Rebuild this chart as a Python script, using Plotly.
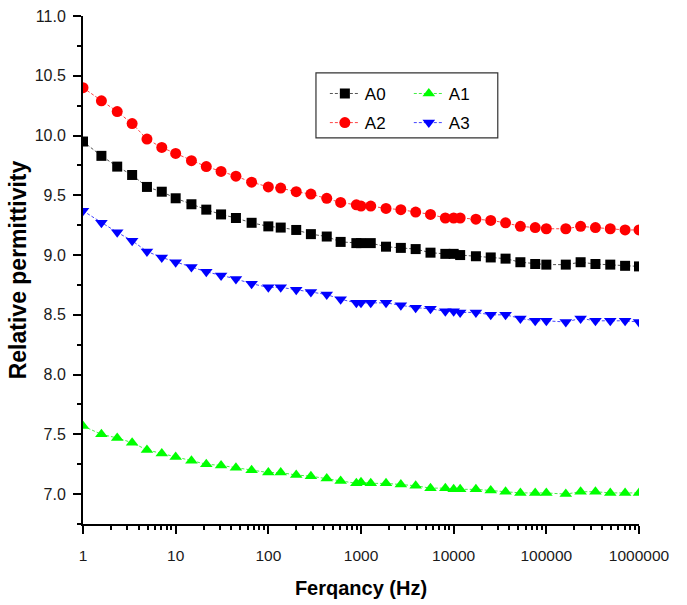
import plotly.graph_objects as go

# Measurement frequencies (Hz) and relative permittivity of each sample
freq_hz = [1, 1.58, 2.34, 3.39, 4.9, 7.08, 10, 14.8, 21.4, 30.9, 44.7, 66, 100,
           136, 200, 288, 427, 603, 891, 1000, 1274, 1862, 2692, 3890, 5623,
           8128, 10000, 11750, 17380, 25120, 36310, 52480, 75860, 100000,
           162200, 234400, 338800, 489800, 707900, 1000000]

a0 = [9.95, 9.83, 9.74, 9.67, 9.57, 9.53, 9.475, 9.425, 9.38, 9.34,
      9.31, 9.27, 9.24, 9.23, 9.21, 9.175, 9.155, 9.11, 9.10, 9.10,
      9.10, 9.07, 9.06, 9.05, 9.02, 9.01, 9.01, 9.00, 8.99, 8.98,
      8.97, 8.94, 8.925, 8.92, 8.92, 8.94, 8.925, 8.92, 8.91, 8.905]

a1 = [7.57, 7.50, 7.47, 7.43, 7.37, 7.34, 7.31, 7.28, 7.25, 7.24,
      7.22, 7.20, 7.18, 7.18, 7.16, 7.15, 7.13, 7.11, 7.09, 7.10,
      7.09, 7.09, 7.08, 7.07, 7.05, 7.05, 7.04, 7.04, 7.04, 7.03,
      7.02, 7.01, 7.01, 7.01, 7.00, 7.02, 7.02, 7.01, 7.01, 7.01]

a2 = [10.40, 10.29, 10.20, 10.10, 9.97, 9.90, 9.85, 9.79, 9.74, 9.70,
      9.66, 9.61, 9.57, 9.56, 9.53, 9.51, 9.475, 9.44, 9.42, 9.41,
      9.41, 9.39, 9.38, 9.36, 9.34, 9.31, 9.31, 9.31, 9.30, 9.29,
      9.27, 9.24, 9.23, 9.22, 9.22, 9.24, 9.23, 9.22, 9.21, 9.21]

a3 = [9.37, 9.27, 9.19, 9.12, 9.03, 8.98, 8.94, 8.90, 8.86, 8.83,
      8.80, 8.76, 8.73, 8.73, 8.71, 8.69, 8.67, 8.63, 8.60, 8.60,
      8.60, 8.60, 8.58, 8.56, 8.55, 8.53, 8.53, 8.52, 8.52, 8.50,
      8.50, 8.47, 8.45, 8.45, 8.44, 8.47, 8.45, 8.45, 8.45, 8.44]

x_tick_vals = [1, 10, 100, 1000, 10000, 100000, 1000000]
x_tick_text = ["1", "10", "100", "1000", "10000", "100000", "1000000"]

FONT = "Arial, Liberation Sans, Helvetica, sans-serif"

series = [
    # name, values, marker symbol, marker colour, line colour, legend, size
    ("A0", a0, "square", "#000000", "#555555", "legend", 10),
    ("A1", a1, "triangle-up", "#00ff00", "#44ee44", "legend2", 11),
    ("A2", a2, "circle", "#ff0000", "#ff4444", "legend", 11),
    ("A3", a3, "triangle-down", "#0000ff", "#4444ff", "legend2", 11),
]

fig = go.Figure()
for name, vals, sym, mcol, lcol, leg, size in series:
    fig.add_trace(go.Scatter(
        x=freq_hz, y=vals, name=name, mode="lines+markers",
        legend=leg, legendgroup=name,
        line=dict(color=lcol, width=1, dash="3px,2px"),
        marker=dict(symbol=sym, size=size, color=mcol, line=dict(width=0)),
    ))

legend_style = dict(y=0.882, xanchor="left", yanchor="top",
                    bgcolor="rgba(0,0,0,0)", borderwidth=0, tracegroupgap=4,
                    font=dict(size=17, color="#000"), itemclick=False)

fig.update_layout(
    width=687, height=605,
    margin=dict(l=83, r=48, t=16, b=81, autoexpand=False),
    paper_bgcolor="white", plot_bgcolor="white",
    font=dict(family=FONT, color="#1a1a1a"),
    legend=dict(x=0.435, **legend_style),
    legend2=dict(x=0.586, **legend_style),
    shapes=[dict(type="rect", xref="paper", yref="paper",
                 x0=0.419, x1=0.746, y0=0.760, y1=0.888,
                 line=dict(color="#333", width=1.2), fillcolor="rgba(0,0,0,0)")],
)

fig.update_xaxes(
    type="log", range=[0, 6], automargin=False,
    showline=True, linecolor="black", linewidth=2,
    showgrid=False, zeroline=False, mirror=False,
    ticks="outside", ticklen=8, tickwidth=2, tickcolor="black",
    tickvals=x_tick_vals, ticktext=x_tick_text,
    tickfont=dict(size=15.5), ticklabelstandoff=8,
    minor=dict(ticks="outside", ticklen=4, tickwidth=1.5, tickcolor="black",
               dtick="D1", showgrid=False),
    title=dict(text="Ferqancy (Hz)", font=dict(size=20, weight="bold", color="#000"),
               standoff=18),
)

fig.update_yaxes(
    range=[6.75, 11.0], automargin=False,
    showline=True, linecolor="black", linewidth=2,
    showgrid=False, zeroline=False, mirror=False,
    ticks="outside", ticklen=8, tickwidth=2, tickcolor="black",
    tick0=7, dtick=0.5, tickformat=".1f",
    tickfont=dict(size=16), ticklabelstandoff=4,
    minor=dict(ticks="outside", ticklen=4, tickwidth=1.5, tickcolor="black",
               tick0=6.75, dtick=0.25, showgrid=False),
    title=dict(text="Relative permittivity",
               font=dict(size=23, weight="bold", color="#000"), standoff=2),
)

fig.write_html("out.html")
